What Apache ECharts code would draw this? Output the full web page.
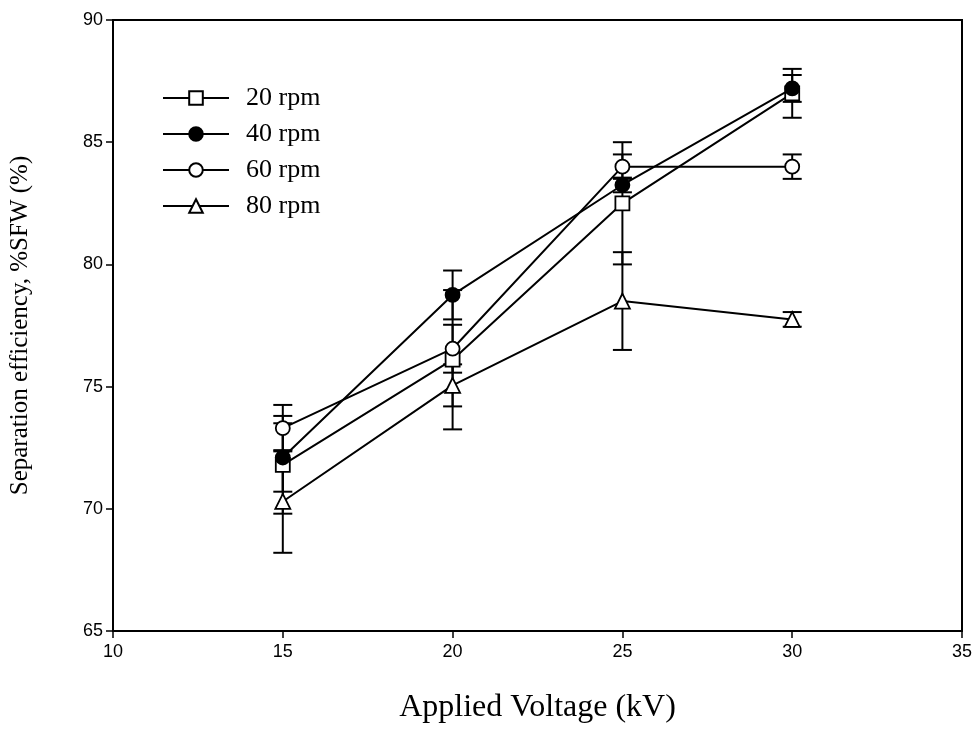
<!DOCTYPE html>
<html>
<head>
<meta charset="utf-8">
<title>Separation efficiency vs applied voltage</title>
<script src="https://cdn.jsdelivr.net/npm/echarts@6/dist/echarts.min.js"></script>
<style>
  html, body { margin: 0; padding: 0; background: #fff; }
  #chart { width: 979px; height: 738px; }
</style>
</head>
<body>
<div id="chart"></div>
<script>
// Applied voltage levels (kV)
const voltages = [15, 20, 25, 30];

// Series names (drum speed)
const seriesNames = ['20 rpm', '40 rpm', '60 rpm', '80 rpm'];

// Mean separation efficiency, %SFW (%)
const eff20 = [71.8, 76.1, 82.5, 87.0];
const eff40 = [72.1, 78.75, 83.25, 87.2];
const eff60 = [73.3, 76.55, 84.0, 84.0];
const eff80 = [70.3, 75.05, 78.5, 77.75];

// Error bar half-widths (±)
const err20 = [2.0, 2.85, 2.5, 1.0];
const err40 = [1.4, 1.0, 0.3, 0.55];
const err60 = [0.95, 0.98, 0.5, 0.5];
const err80 = [2.1, 0.86, 2.0, 0.3];

// Axis ticks
const xTicks = [10, 15, 20, 25, 30, 35];
const yTicks = [65, 70, 75, 80, 85, 90];

const means = [eff20, eff40, eff60, eff80];
const errs = [err20, err40, err60, err80];
const symbols = ['rect', 'circle', 'circle', 'triangle'];
const fills = ['#fff', '#000', '#fff', '#fff'];
const symbolSizes = [14, 14, 14, 15];

const serif = '"Liberation Serif", "Times New Roman", serif';
const sans = '"Liberation Sans", Arial, sans-serif';

const chart = echarts.init(document.getElementById('chart'));

// Vertical error bars with caps, drawn beneath the lines and markers
const errorSeries = means.map((m, si) => ({
  type: 'custom',
  name: seriesNames[si] + ' error',
  z: 1,
  silent: true,
  data: voltages.map((v, i) => [v, m[i] - errs[si][i], m[i] + errs[si][i]]),
  renderItem: function (params, api) {
    const lo = api.coord([api.value(0), api.value(1)]);
    const hi = api.coord([api.value(0), api.value(2)]);
    const half = 9.5;
    const style = { stroke: '#000', lineWidth: 2, fill: null };
    return {
      type: 'group',
      children: [
        { type: 'line', shape: { x1: lo[0], y1: lo[1], x2: hi[0], y2: hi[1] }, style: style },
        { type: 'line', shape: { x1: lo[0] - half, y1: lo[1], x2: lo[0] + half, y2: lo[1] }, style: style },
        { type: 'line', shape: { x1: hi[0] - half, y1: hi[1], x2: hi[0] + half, y2: hi[1] }, style: style }
      ]
    };
  }
}));

const lineSeries = means.map((m, si) => ({
  type: 'line',
  name: seriesNames[si],
  z: 2,
  data: voltages.map((v, i) => [v, m[i]]),
  symbol: symbols[si],
  symbolSize: symbolSizes[si],
  showAllSymbol: true,
  animation: false,
  lineStyle: { color: '#000', width: 2 },
  itemStyle: { color: fills[si], borderColor: '#000', borderWidth: 1.8 }
}));

chart.setOption({
  animation: false,
  backgroundColor: '#fff',
  grid: {
    left: 111, right: 17, top: 20, bottom: 107,
    show: true, borderColor: '#000', borderWidth: 2, backgroundColor: 'transparent'
  },
  legend: {
    data: seriesNames,
    orient: 'vertical',
    left: 157,
    top: 80,
    itemWidth: 66,
    itemHeight: 17,
    itemGap: 10,
    textStyle: { fontFamily: serif, fontSize: 26, color: '#000', padding: [0, 0, 0, 12] },
    selectedMode: false
  },
  xAxis: {
    type: 'value',
    min: xTicks[0],
    max: xTicks[xTicks.length - 1],
    interval: 5,
    name: 'Applied Voltage (kV)',
    nameLocation: 'middle',
    nameGap: 61,
    nameTextStyle: { fontFamily: serif, fontSize: 32, color: '#000' },
    axisLine: { show: true, lineStyle: { color: '#000', width: 2 } },
    axisTick: { show: true, inside: false, length: 7, lineStyle: { color: '#000', width: 1.5 } },
    axisLabel: { fontFamily: sans, fontSize: 18, color: '#000', margin: 12 },
    splitLine: { show: false }
  },
  yAxis: {
    type: 'value',
    min: yTicks[0],
    max: yTicks[yTicks.length - 1],
    interval: 5,
    name: 'Separation efficiency, %SFW (%)',
    nameLocation: 'middle',
    nameGap: 80,
    nameTextStyle: { fontFamily: serif, fontSize: 25, color: '#000' },
    axisLine: { show: true, lineStyle: { color: '#000', width: 2 } },
    axisTick: { show: true, inside: false, length: 7, lineStyle: { color: '#000', width: 1.5 } },
    axisLabel: { fontFamily: sans, fontSize: 18, color: '#000', margin: 10 },
    splitLine: { show: false }
  },
  series: errorSeries.concat(lineSeries)
});
</script>
</body>
</html>
